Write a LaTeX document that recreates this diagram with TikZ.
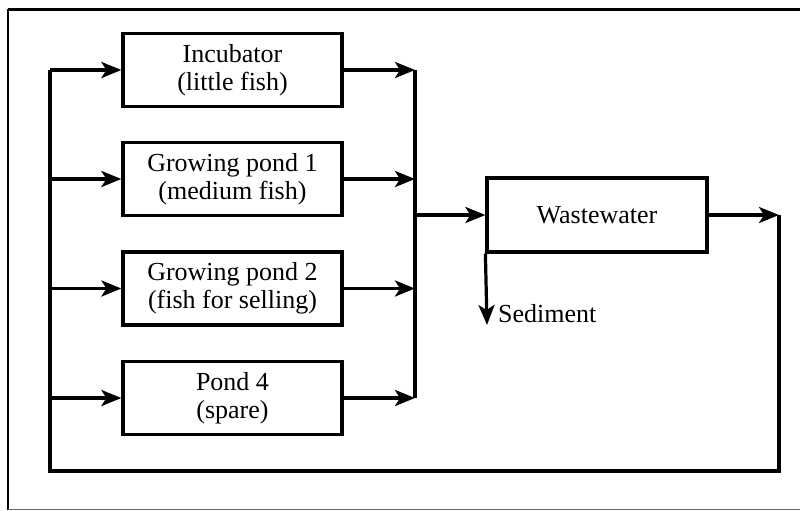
\documentclass[tikz,border=0pt]{standalone}
\usepackage{fontspec}
\setmainfont{Liberation Serif}
\usetikzlibrary{arrows.meta}
\begin{document}
\begin{tikzpicture}[x=1pt,y=-1pt,
  blk/.style={draw,line width=3.2pt,minimum width=219pt,minimum height=73pt,inner sep=0pt,align=center,
    font=\fontsize{26}{27.5}\selectfont},
  flow/.style={line width=3.2pt,-{Stealth[length=20pt,width=16pt,inset=5pt]}},
  wire/.style={line width=3.2pt}]
\useasboundingbox (0,0) rectangle (800,511);
\fill[white] (0,0) rectangle (800,511);
% outer frame
\draw[line width=3pt] (8,9.5) -- (820,9.5);
\draw[line width=2pt] (8,9.5) -- (8,509.5);
\draw[line width=1.2pt,black!60] (8,509.5) -- (820,509.5);
% blocks
\node[blk] (inc) at (232.5,70) {Incubator\\(little fish)};
\node[blk] (gp1) at (232.5,179) {Growing pond 1\\(medium fish)};
\node[blk] (gp2) at (232.5,288.5) {Growing pond 2\\(fish for selling)};
\node[blk] (p4) at (232.5,398) {Pond 4\\(spare)};
\node[blk,minimum width=220pt,minimum height=74pt] (ww) at (597,215) {Wastewater};
\node[anchor=west,inner sep=0pt,font=\fontsize{26}{27.5}\selectfont] (sed) at (498,314) {Sediment};
% coordinates
\coordinate (l1) at (50,70);
\coordinate (l2) at (50,179);
\coordinate (l3) at (50,288.5);
\coordinate (l4) at (50,398);
\coordinate (lb) at (50,471);
\coordinate (r1) at (415,70);
\coordinate (r2) at (415,179);
\coordinate (r3) at (415,288.5);
\coordinate (r4) at (415,398);
\coordinate (rm) at (415,215);
\coordinate (out) at (779,215);
\coordinate (outb) at (779,471);
\coordinate (sd) at (ww.south west);
\coordinate (sdend) at (487,325);
% return loop
\draw[wire] (out) -- (outb) -- (lb) -- (l1);
% left bus branches
\draw[flow] (l1) -- (inc.west);
\draw[flow] (l2) -- (gp1.west);
\draw[flow] (l3) -- (gp2.west);
\draw[flow] (l4) -- (p4.west);
% right bus
\draw[wire] (r1) -- (r4);
\draw[flow] (inc.east) -- (r1);
\draw[flow] (gp1.east) -- (r2);
\draw[flow] (gp2.east) -- (r3);
\draw[flow] (p4.east) -- (r4);
\draw[flow] (rm) -- (ww.west);
\draw[flow] (ww.east) -- (out);
\draw[flow] (sd) -- (sdend);
\end{tikzpicture}
\end{document}
